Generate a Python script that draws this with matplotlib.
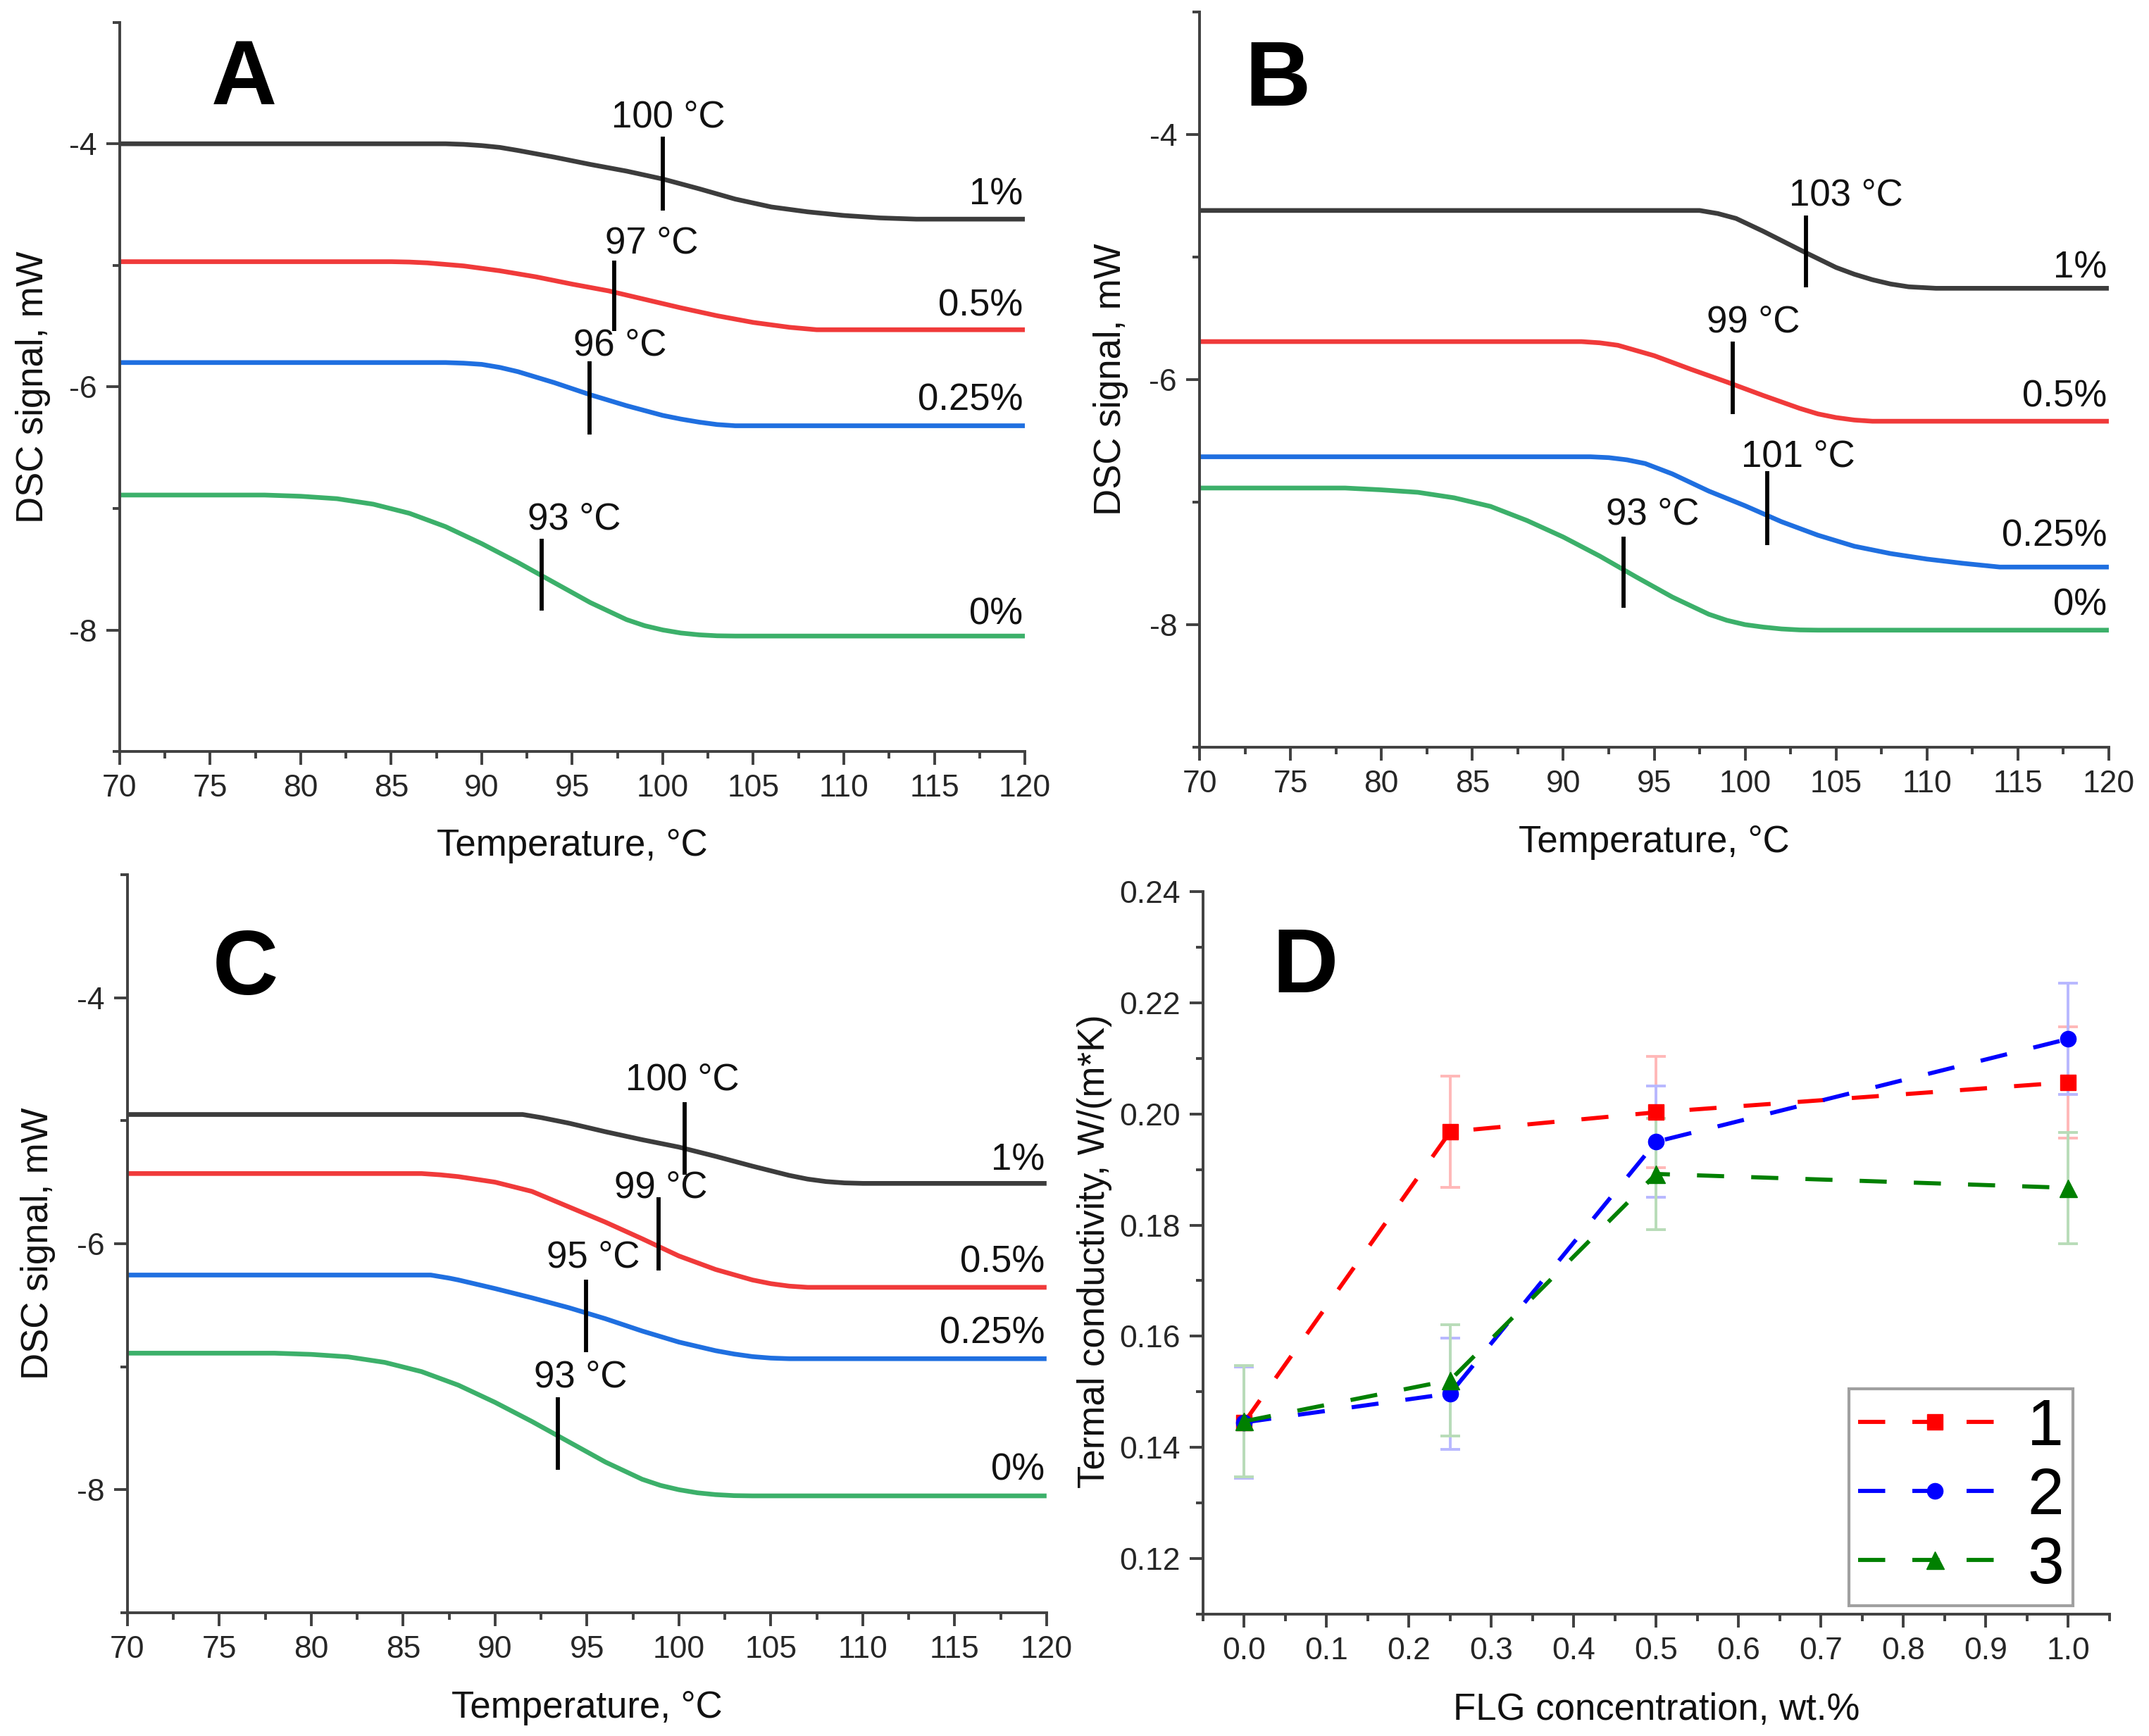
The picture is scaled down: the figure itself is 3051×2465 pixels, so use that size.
import matplotlib
matplotlib.use('Agg')
import matplotlib.pyplot as plt
from matplotlib.ticker import MultipleLocator, FixedLocator, FormatStrFormatter

plt.rcParams['font.family'] = ['Liberation Sans', 'DejaVu Sans']
plt.rcParams['axes.unicode_minus'] = False

# ---------------- Panel A (DSC) ----------------
A_T_1 = [70, 88, 89, 90, 91, 92, 94, 96, 98, 100, 102, 104, 106, 108, 110, 112, 114, 120]
A_S_1 = [-4.00, -4.00, -4.005, -4.015, -4.03, -4.055, -4.11, -4.17, -4.225, -4.29, -4.37, -4.455, -4.52, -4.56, -4.59, -4.61, -4.62, -4.62]
A_T_05 = [70, 85, 86, 87, 89, 91, 93, 95, 97, 99, 101, 103, 105, 106, 107, 108.5, 120]
A_S_05 = [-4.97, -4.97, -4.973, -4.98, -5.005, -5.045, -5.095, -5.155, -5.21, -5.28, -5.35, -5.415, -5.47, -5.49, -5.51, -5.53, -5.53]
A_T_025 = [70, 88, 89, 90, 91, 92, 94, 96, 98, 100, 101, 102, 103, 104, 120]
A_S_025 = [-5.80, -5.80, -5.805, -5.815, -5.84, -5.875, -5.965, -6.065, -6.155, -6.235, -6.265, -6.29, -6.31, -6.32, -6.32]
A_T_0 = [70, 78, 80, 82, 84, 86, 88, 90, 92, 94, 96, 98, 99, 100, 101, 102, 103, 104, 120]
A_S_0 = [-6.89, -6.89, -6.90, -6.92, -6.965, -7.04, -7.15, -7.29, -7.445, -7.61, -7.775, -7.915, -7.965, -8.00, -8.025, -8.04, -8.048, -8.05, -8.05]
A_mark_T = [100.0, 97.3, 95.95, 93.3]
A_mark_lo = [-4.55, -5.54, -6.39, -7.84]
A_mark_hi = [-3.94, -4.96, -5.79, -7.25]
A_mark_text = ['100 °C', '97 °C', '96 °C', '93 °C']
A_text_x = [100.3, 99.4, 97.65, 95.1]
A_text_y = [-3.78, -4.82, -5.66, -7.09]
A_pct_y = [-4.42, -5.335, -6.11, -7.87]

# ---------------- Panel B (DSC) ----------------
B_T_1 = [70, 97.5, 98.5, 99.5, 101, 103, 105, 106, 107, 108, 109, 110.5, 120]
B_S_1 = [-4.62, -4.62, -4.645, -4.685, -4.79, -4.94, -5.085, -5.14, -5.185, -5.22, -5.243, -5.255, -5.255]
B_T_05 = [70, 91, 92, 93, 95, 97, 99, 101, 103, 104, 105, 106, 107, 120]
B_S_05 = [-5.69, -5.69, -5.70, -5.72, -5.805, -5.915, -6.02, -6.13, -6.235, -6.28, -6.31, -6.33, -6.34, -6.34]
B_T_025 = [70, 91.5, 92.5, 93.5, 94.5, 96, 98, 100, 102, 104, 106, 108, 110, 112, 114, 120]
B_S_025 = [-6.63, -6.63, -6.637, -6.655, -6.685, -6.77, -6.91, -7.03, -7.16, -7.27, -7.36, -7.42, -7.465, -7.50, -7.53, -7.53]
B_T_0 = [70, 78, 80, 82, 84, 86, 88, 90, 92, 94, 96, 98, 99, 100, 101, 102, 103, 104, 120]
B_S_0 = [-6.885, -6.885, -6.90, -6.92, -6.965, -7.035, -7.15, -7.285, -7.44, -7.61, -7.775, -7.915, -7.965, -8.00, -8.02, -8.035, -8.043, -8.045, -8.045]
B_mark_T = [103.36, 99.3, 101.2, 93.3]
B_mark_lo = [-5.25, -6.28, -7.35, -7.86]
B_mark_hi = [-4.66, -5.69, -6.75, -7.28]
B_mark_text = ['103 °C', '99 °C', '101 °C', '93 °C']
B_text_x = [105.55, 100.45, 102.9, 94.9]
B_text_y = [-4.50, -5.53, -6.63, -7.10]
B_pct_y = [-5.09, -6.14, -7.28, -7.84]

# ---------------- Panel C (DSC) ----------------
C_T_1 = [70, 91.5, 92.5, 94, 96, 98, 100, 102, 104, 106, 107, 108, 109, 110, 120]
C_S_1 = [-4.95, -4.95, -4.975, -5.02, -5.09, -5.155, -5.215, -5.29, -5.37, -5.445, -5.475, -5.495, -5.506, -5.51, -5.51]
C_T_05 = [70, 86, 87, 88, 90, 92, 94, 96, 98, 100, 102, 104, 105, 106, 107, 120]
C_S_05 = [-5.43, -5.43, -5.44, -5.455, -5.50, -5.575, -5.70, -5.825, -5.96, -6.10, -6.21, -6.295, -6.325, -6.345, -6.355, -6.355]
C_T_025 = [70, 86.5, 87.5, 88, 90, 92, 94, 96, 98, 100, 102, 103, 104, 105, 106, 120]
C_S_025 = [-6.255, -6.255, -6.28, -6.295, -6.365, -6.44, -6.52, -6.61, -6.71, -6.80, -6.87, -6.897, -6.918, -6.93, -6.935, -6.935]
C_T_0 = [70, 78, 80, 82, 84, 86, 88, 90, 92, 94, 96, 98, 99, 100, 101, 102, 103, 104, 120]
C_S_0 = [-6.89, -6.89, -6.90, -6.92, -6.965, -7.04, -7.15, -7.29, -7.445, -7.61, -7.775, -7.915, -7.965, -8.00, -8.025, -8.04, -8.048, -8.05, -8.05]
C_mark_T = [100.3, 98.9, 94.96, 93.4]
C_mark_lo = [-5.44, -6.22, -6.88, -7.84]
C_mark_hi = [-4.85, -5.62, -6.29, -7.25]
C_mark_text = ['100 °C', '99 °C', '95 °C', '93 °C']
C_text_x = [100.2, 99.0, 95.34, 94.66]
C_text_y = [-4.67, -5.545, -6.11, -7.085]
C_pct_y = [-5.32, -6.15, -6.73, -7.84]

pct_labels = ['1%', '0.5%', '0.25%', '0%']
dsc_colors = ['#3c3c3c', '#f03a3a', '#1f6fe0', '#3cb06a']

# ---------------- Panel D ----------------
flg = [0.0, 0.25, 0.5, 1.0]
k1 = [0.1445, 0.1968, 0.2003, 0.2057]
k2 = [0.1445, 0.1497, 0.1950, 0.2135]
k3 = [0.1447, 0.1521, 0.1892, 0.1867]
e1 = [0.01, 0.01, 0.01, 0.01]
e2 = [0.01, 0.01, 0.01, 0.01]
e3 = [0.01, 0.01, 0.01, 0.01]
series_labels = ['1', '2', '3']

SPINE = '#404040'
TICKC = '#262626'

fig = plt.figure(figsize=(30.51, 24.65), dpi=100)


def style_axes(ax):
    for s in ['top', 'right']:
        ax.spines[s].set_visible(False)
    for s in ['left', 'bottom']:
        ax.spines[s].set_linewidth(2.8)
        ax.spines[s].set_color(SPINE)
    ax.tick_params(which='major', direction='out', length=14, width=2.8,
                   color=SPINE, labelsize=32, labelcolor=TICKC, pad=9)
    ax.tick_params(which='minor', direction='out', length=7, width=2.8, color=SPINE)


def dsc_panel(rect, curves, marks, pct_y, letter, letter_pos, ylab_x):
    ax = fig.add_axes(rect)
    ax.set_xlim(70, 120)
    ax.set_ylim(-9, -3)
    style_axes(ax)
    ax.xaxis.set_major_locator(MultipleLocator(5))
    ax.xaxis.set_minor_locator(MultipleLocator(2.5))
    ax.yaxis.set_major_locator(FixedLocator([-8, -6, -4]))
    ax.yaxis.set_minor_locator(FixedLocator([-9, -7, -5, -3]))
    ax.yaxis.set_major_formatter(FormatStrFormatter('%d'))
    for (T, S), c in zip(curves, dsc_colors):
        ax.plot(T, S, color=c, lw=4.8, solid_capstyle='butt', solid_joinstyle='round')
    mT, mlo, mhi, mtxt, tx, ty = marks
    ax.vlines(mT, mlo, mhi, color='black', lw=4.2, zorder=5)
    for x, y, s in zip(tx, ty, mtxt):
        ax.text(x, y, s, ha='center', va='center', fontsize=38, color='#111111', zorder=6)
    for y, s in zip(pct_y, pct_labels):
        ax.text(119.9, y, s, ha='right', va='center', fontsize=38, color='#111111')
    ax.text(letter_pos[0], letter_pos[1], letter, transform=ax.transAxes,
            fontsize=93, fontweight='bold', ha='center', va='center')
    ax.set_xlabel('Temperature, °C', fontsize=38, color='#111111')
    ax.set_ylabel('DSC signal, mW', fontsize=38, color='#111111')
    ax.xaxis.set_label_coords(0.5, -0.129)
    ax.xaxis.label.set_va('center')
    ax.yaxis.set_label_coords(ylab_x, 0.5)
    ax.yaxis.label.set_va('center')
    return ax


dsc_panel([0.0557, 0.5671, 0.4212, 0.4201],
          [(A_T_1, A_S_1), (A_T_05, A_S_05), (A_T_025, A_S_025), (A_T_0, A_S_0)],
          (A_mark_T, A_mark_lo, A_mark_hi, A_mark_text, A_text_x, A_text_y),
          A_pct_y, 'A', (0.137, 0.920), -0.096)

dsc_panel([0.5582, 0.5696, 0.4231, 0.4235],
          [(B_T_1, B_S_1), (B_T_05, B_S_05), (B_T_025, B_S_025), (B_T_0, B_S_0)],
          (B_mark_T, B_mark_lo, B_mark_hi, B_mark_text, B_text_x, B_text_y),
          B_pct_y, 'B', (0.086, 0.905), -0.098)

dsc_panel([0.0593, 0.0710, 0.4277, 0.4252],
          [(C_T_1, C_S_1), (C_T_05, C_S_05), (C_T_025, C_S_025), (C_T_0, C_S_0)],
          (C_mark_T, C_mark_lo, C_mark_hi, C_mark_text, C_text_x, C_text_y),
          C_pct_y, 'C', (0.128, 0.870), -0.097)

# ---------------- Panel D ----------------
axd = fig.add_axes([0.5598, 0.0702, 0.4218, 0.4162])
axd.set_xlim(-0.05, 1.05)
axd.set_ylim(0.11, 0.24)
style_axes(axd)
axd.xaxis.set_major_locator(MultipleLocator(0.1))
axd.xaxis.set_minor_locator(MultipleLocator(0.05))
axd.xaxis.set_major_formatter(FormatStrFormatter('%.1f'))
axd.yaxis.set_major_locator(FixedLocator([0.12, 0.14, 0.16, 0.18, 0.20, 0.22, 0.24]))
axd.yaxis.set_minor_locator(FixedLocator([0.11, 0.13, 0.15, 0.17, 0.19, 0.21, 0.23]))
axd.yaxis.set_major_formatter(FormatStrFormatter('%.2f'))

handles = []
for y, e, c, ec, m, ms in [(k1, e1, '#ff0000', '#ffb8b8', 's', 16),
                           (k2, e2, '#0000ff', '#b8b8ff', 'o', 16),
                           (k3, e3, '#008000', '#b8dcb8', '^', 18)]:
    cont = axd.errorbar(flg, y, yerr=e, color=c, linestyle=(0, (6.6, 6.6)), lw=4.2,
                        marker=m, ms=ms, mec=c, mfc=c,
                        ecolor=ec, elinewidth=2.8, capsize=10, capthick=2.8)
    handles.append(cont[0])

leg = axd.legend(handles, series_labels, loc='lower right', bbox_to_anchor=(0.9596, 0.0117),
                 borderaxespad=0, fontsize=67, frameon=True, fancybox=False,
                 edgecolor='#a0a0a0', framealpha=1, handlelength=2.34, handletextpad=0.24,
                 borderpad=0.14, labelspacing=0.13, numpoints=1)
leg.get_frame().set_linewidth(3)

axd.text(0.113, 0.893, 'D', transform=axd.transAxes, fontsize=93, fontweight='bold',
         ha='center', va='center')
axd.set_xlabel('FLG concentration, wt.%', fontsize=38, color='#111111')
axd.set_ylabel('Termal conductivity, W/(m*K)', fontsize=38, color='#111111')
axd.xaxis.set_label_coords(0.5, -0.1325)
axd.xaxis.label.set_va('center')
axd.yaxis.set_label_coords(-0.12, 0.502)
axd.yaxis.label.set_va('center')

fig.savefig('out.png', dpi=100, facecolor='white')
